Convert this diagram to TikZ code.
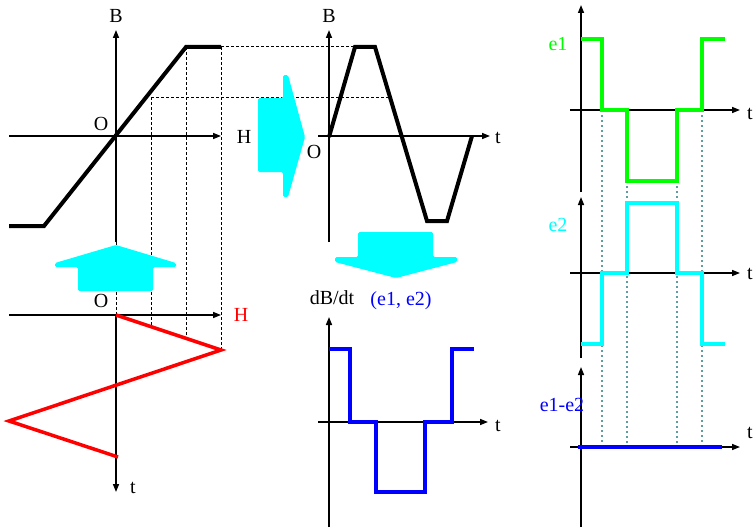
\documentclass[tikz,border=0pt]{standalone}
\usepackage{fontspec}
\setmainfont{Liberation Serif}
\usetikzlibrary{arrows.meta}
\definecolor{tealdash}{RGB}{95,158,160}
\definecolor{cyn}{RGB}{0,255,255}
\definecolor{grn}{RGB}{0,255,0}
\definecolor{blu}{RGB}{0,0,255}
\definecolor{rd}{RGB}{255,0,0}
\begin{document}
\begin{tikzpicture}[x=1pt,y=-1pt,
  axis/.style={line width=1.5pt,-{Triangle[length=8pt,width=6pt]}},
  curve/.style={line width=4pt,line join=miter},
  guide/.style={line width=1pt,dash pattern=on 3pt off 2pt},
  tguide/.style={tealdash,line width=1.2pt,dash pattern=on 2pt off 3pt},
  lbl/.style={font=\fontsize{20}{22}\selectfont,inner sep=0pt},
  fat/.style={fill=cyn,rounded corners=1.5pt}]
\useasboundingbox (0,0) rectangle (754,527);

% ---- black dashed guides
\draw[guide] (221,47) -- (355,47);
\draw[guide] (151,97) -- (389,97);
\draw[guide] (151,97) -- (151,325);
\draw[guide] (186,47) -- (186,338);
\draw[guide] (221,47) -- (221,350);
\draw[guide] (116,242) -- (116,315);

% ---- B-H curve (top left)
\coordinate (bhO) at (116,136);
\draw[axis] (116,242) -- (116,30);
\draw[axis] (9,136) -- (221,136);
\draw[curve] (9,226) -- (44,226) -- (186,47) -- (221,47);
\node[lbl] (bhB) at (116,16) {B};
\node[lbl] (bhH) at (244,137) {H};
\node[lbl] (bhOl) at (101,124) {O};

% ---- B(t) (top middle)
\draw[axis] (329,242) -- (329,30);
\draw[axis] (318,136) -- (490,136);
\draw[curve] (329,137) -- (355,47) -- (375,47) -- (427,221) -- (447,221) -- (472,136);
\node[lbl] (btB) at (329,16) {B};
\node[lbl] (btt) at (498,138) {t};
\node[lbl] (btO) at (314,152) {O};

% ---- H(t) (bottom left)
\draw[axis] (9,315) -- (221,315);
\draw[axis] (116,315) -- (116,492);
\draw[curve,rd,line width=3.5pt] (116,315) -- (221,350) -- (9,421) -- (118,457);
\node[lbl] (htO) at (101,301) {O};
\node[lbl,text=rd] (htH) at (241,315) {H};
\node[lbl] (htt) at (133,488) {t};

% ---- dB/dt (bottom middle)
\draw[axis] (329,527) -- (329,317);
\draw[axis] (318,422) -- (488,422);
\draw[curve,blu] (329,349) -- (350,349) -- (350,422) -- (376,422) -- (376,492) -- (425,492) -- (425,422) -- (452,422) -- (452,349) -- (474,349);
\node[lbl] (dbl) at (332,298) {dB/dt};
\node[lbl,text=blu] (e12) at (401,301) {(e1, e2)};
\node[lbl] (dbt) at (498,426) {t};

% ---- right: e1, e2, e1-e2
\draw[tguide] (602,110) -- (602,447);
\draw[tguide] (627,181) -- (627,447);
\draw[tguide] (677,181) -- (677,447);
\draw[tguide] (702,110) -- (702,447);

\draw[axis] (581,192) -- (581,5);
\draw[axis] (570,110) -- (740,110);
\draw[curve,grn] (581,39) -- (602,39) -- (602,110) -- (627,110) -- (627,181) -- (677,181) -- (677,110) -- (702,110) -- (702,39) -- (725,39);
\node[lbl,text=grn] (e1l) at (558,44) {e1};
\node[lbl] (e1t) at (750,114) {t};

\draw[axis] (581,358) -- (581,197);
\draw[axis] (570,273) -- (740,273);
\draw[curve,cyn] (581,344) -- (602,344) -- (602,273) -- (627,273) -- (627,203) -- (677,203) -- (677,273) -- (702,273) -- (702,344) -- (725,344);
\node[lbl,text=cyn] (e2l) at (558,225) {e2};
\node[lbl] (e2t) at (750,274) {t};

\draw[axis] (581,527) -- (581,367);
\draw[axis] (570,447) -- (740,447);
\draw[curve,blu] (578,447) -- (722,447);
\node[lbl,text=blu] (edl) at (562,405) {e1-e2};
\node[lbl] (edt) at (750,433) {t};

% ---- cyan block arrows
\fill[fat] (116,245) -- (176,263) -- (176,267) -- (153,267) -- (153,291) -- (78,291) -- (78,267) -- (55,267) -- (55,263) -- cycle;
\fill[fat] (258,98) -- (283,98) -- (283,75) -- (288,75) -- (305,137) -- (288,197) -- (283,197) -- (283,172) -- (258,172) -- cycle;
\fill[fat] (358,232) -- (433,232) -- (433,257) -- (457,257) -- (457,262) -- (396,278) -- (335,262) -- (335,257) -- (358,257) -- cycle;
\end{tikzpicture}
\end{document}
